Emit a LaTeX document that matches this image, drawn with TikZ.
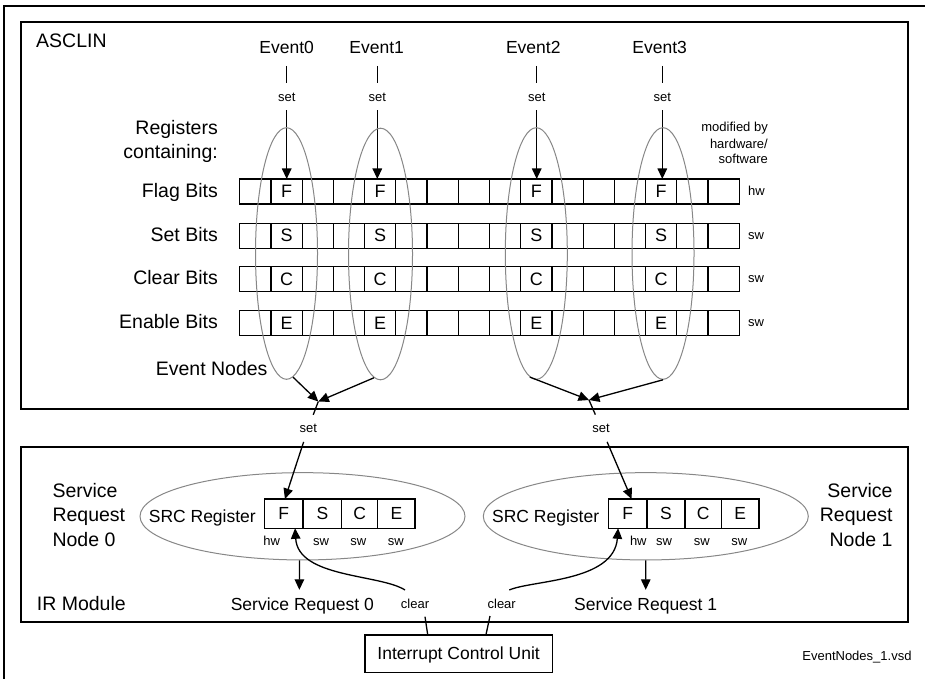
\documentclass[tikz,border=0pt]{standalone}
\usepackage{fontspec}
\setmainfont{Liberation Sans}
\usetikzlibrary{shapes.geometric,arrows.meta}
\newcommand\FsBig{\fontsize{19.5}{23}\selectfont}
\newcommand\FsMed{\fontsize{17.5}{21}\selectfont}
\newcommand\FsReg{\fontsize{18}{21}\selectfont}
\newcommand\FsSml{\fontsize{13}{15}\selectfont}
\definecolor{ellgray}{RGB}{135,135,135}
\begin{document}
\begin{tikzpicture}[x=1pt,y=-1pt,
  frame/.style={draw=black,line width=1.3pt},
  cell/.style={draw=black,line width=1.2pt,minimum width=31.22pt,minimum height=25pt,inner sep=0pt,outer sep=0pt,font=\FsReg},
  scell/.style={draw=black,line width=1.2pt,minimum height=29.3pt,inner sep=0pt,outer sep=0pt,font=\FsMed},
  evnode/.style={draw=ellgray,line width=1pt,ellipse,inner sep=0pt,minimum width=62pt,minimum height=251.6pt},
  srnode/.style={draw=ellgray,line width=1pt,ellipse,inner sep=0pt,minimum width=325pt,minimum height=87.3pt},
  evl/.style={anchor=base,inner sep=0pt,font=\FsMed,text height=12.6pt,text depth=0pt},
  setl/.style={anchor=base,inner sep=0pt,font=\FsSml,text height=9.3pt,text depth=0pt},
  bigE/.style={anchor=base east,inner sep=0pt,font=\FsBig},
  bigW/.style={anchor=base west,inner sep=0pt,font=\FsBig},
  smlE/.style={anchor=base east,inner sep=0pt,font=\FsSml},
  smlW/.style={anchor=base west,inner sep=0pt,font=\FsSml},
  sml/.style={anchor=base,inner sep=0pt,font=\FsSml},
  medE/.style={anchor=base east,inner sep=0pt,font=\FsMed},
  medl/.style={anchor=base,inner sep=0pt,font=\FsMed,text height=12.6pt,text depth=0pt},
  conn/.style={draw=black,line width=1.3pt},
  arr/.style={draw=black,line width=1.3pt,-{Triangle[length=10.5pt,width=9.5pt]}}
]
\useasboundingbox (0,0) rectangle (925,679);
% outer frame and module boxes
\draw[frame] (4,679) -- (4,6) -- (925,6);
\draw[frame] (21,22) rectangle (908,409);
\draw[frame] (21,447) rectangle (908,622);

\node[bigW] (asclin) at (36,47.7) {ASCLIN};
\node[bigW] (irmod) at (36.7,610) {IR Module};

% register rows
\foreach \r/\yy/\lt in {0/191.5/F,1/235.65/S,2/279.2/C,3/323/E} {
  \foreach \c in {0,...,15} {
    \node[cell] (r\r-\c) at ({255.31+\c*31.22},\yy)
      {\ifnum\c=1 \lt\else\ifnum\c=4 \lt\else\ifnum\c=9 \lt\else\ifnum\c=13 \lt\fi\fi\fi\fi};
  }
}

% row labels
\node[bigE] (reg1) at (218,135) {Registers};
\node[bigE] (reg2) at (218,158.3) {containing:};
\node[bigE] (lflag) at (218,197.3) {Flag Bits};
\node[bigE] (lset) at (218,241) {Set Bits};
\node[bigE] (lclr) at (218,284.3) {Clear Bits};
\node[bigE] (lena) at (218,328.3) {Enable Bits};

\node[smlE] (mod1) at (768,131.7) {modified by};
\node[smlE] (mod2) at (768,148.3) {hardware/};
\node[smlE] (mod3) at (768,164) {software};
\node[smlW] (hw0) at (748,195) {hw};
\node[smlW] (sw1) at (748,239) {sw};
\node[smlW] (sw2) at (748,282.3) {sw};
\node[smlW] (sw3) at (748,326) {sw};

% events
\node[evl] (ev0) at (286.7,53.3) {Event0};
\node[evl] (ev1) at (376.7,53.3) {Event1};
\node[evl] (ev2) at (533.3,53.3) {Event2};
\node[evl] (ev3) at (659.7,53.3) {Event3};
\node[setl] (set0) at (286.7,101.7) {set};
\node[setl] (set1) at (377.3,101.7) {set};
\node[setl] (set2) at (536.7,101.7) {set};
\node[setl] (set3) at (662.3,101.7) {set};
\foreach \i/\c in {0/1,1/4,2/9,3/13} {
  \draw[conn,shorten <=12.4pt,shorten >=9.1pt] (ev\i.south -| set\i.north) -- (set\i.north);
  \draw[arr,shorten <=8.3pt] (set\i.south) -- (set\i.south |- r0-\c.north);
}

% event node ellipses
\node[evnode] (el0) at (286.5,253.5) {};
\node[evnode,minimum width=64pt] (el1) at (380.5,254) {};
\node[evnode] (el2) at (536.3,253.5) {};
\node[evnode] (el3) at (663,253.5) {};
\node[bigE] (evnodes) at (267.7,375) {Event Nodes};

\coordinate (m0) at (318.3,401.5);
\coordinate (m1) at (589,400);
\draw[arr] (el0.-87) -- (m0);
\draw[arr] (el1.-93) -- (m0);
\draw[arr] (el2.-93) -- (m1);
\draw[arr] (el3.south) -- (m1);

\node[setl] (setb0) at (308.3,432.3) {set};
\node[setl] (setb1) at (601,432.3) {set};
\draw[conn,shorten >=8.6pt] (m0) -- (setb0);
\draw[conn,shorten >=8.9pt] (m1) -- (setb1);

% service request nodes
\node[srnode] (sr0e) at (302.5,516.3) {};
\node[srnode] (sr1e) at (645.8,516.3) {};

\node[scell,minimum width=38.7pt] (s0f) at (283.65,513.65) {F};
\node[scell,minimum width=38.7pt] (s0s) at (322.35,513.65) {S};
\node[scell,minimum width=36pt] (s0c) at (359.7,513.65) {C};
\node[scell,minimum width=37.3pt] (s0e) at (396.35,513.65) {E};
\node[scell,minimum width=38.7pt] (s1f) at (627.65,513.65) {F};
\node[scell,minimum width=38pt] (s1s) at (666,513.65) {S};
\node[scell,minimum width=36.3pt] (s1c) at (703.15,513.65) {C};
\node[scell,minimum width=37.7pt] (s1e) at (740.15,513.65) {E};

\draw[arr,shorten <=9.9pt] (setb0) -- (s0f.85);
\draw[arr,shorten <=10.2pt] (setb1) -- (s1f.75);

\node[medE] (src0) at (256,522.7) {SRC Register};
\node[medE] (src1) at (599.3,522.7) {SRC Register};

\node[sml] (s0hw) at (271.7,545) {hw};
\node[sml] (s0sw1) at (321,545) {sw};
\node[sml] (s0sw2) at (358.3,545) {sw};
\node[sml] (s0sw3) at (395.7,545) {sw};
\node[sml] (s1hw) at (638.3,545) {hw};
\node[sml] (s1sw1) at (664,545) {sw};
\node[sml] (s1sw2) at (701.7,545) {sw};
\node[sml] (s1sw3) at (739.3,545) {sw};

\node[bigW] (srn0a) at (52.3,497.7) {Service};
\node[bigW] (srn0b) at (52.3,521.7) {Request};
\node[bigW] (srn0c) at (52.3,546) {Node 0};
\node[bigE] (srn1a) at (892.7,497.7) {Service};
\node[bigE] (srn1b) at (892.7,521.7) {Request};
\node[bigE] (srn1c) at (892.7,546) {Node 1};

\node[medl] (srq0) at (302.3,610.7) {Service Request 0};
\node[medl] (srq1) at (645.7,610.7) {Service Request 1};
\draw[arr,shorten >=8.1pt] ([xshift=-3pt]sr0e.south) -- ([xshift=-3pt]srq0.north);
\draw[arr,shorten >=8.1pt] (sr1e.south) -- (srq1.north);

% clear paths
\node[sml] (clr0) at (415,608.3) {clear};
\node[sml] (clr1) at (501.7,608.3) {clear};
\draw[arr] ([xshift=-10pt,yshift=18.3pt]clr0.base) .. controls (380,574) and (298,578) .. (s0f.-52);
\draw[arr] ([xshift=7.6pt,yshift=18.3pt]clr1.base) .. controls (532,580) and (614,582) .. (s1f.-123);

\node[draw=black,line width=1.3pt,minimum width=187.3pt,minimum height=37.3pt,inner sep=0pt,font=\FsMed,text height=12.4pt,text depth=0pt] (icu) at (458.65,653.65) {Interrupt Control Unit};
\draw[conn] ([xshift=10pt,yshift=-8.4pt]clr0.base) -- ([xshift=63.3pt]icu.north west);
\draw[conn] ([xshift=-11.7pt,yshift=-7.7pt]clr1.base) -- ([xshift=121.7pt]icu.north west);

\node[smlE] (fname) at (911.7,660.7) {EventNodes\_1.vsd};
\end{tikzpicture}
\end{document}
